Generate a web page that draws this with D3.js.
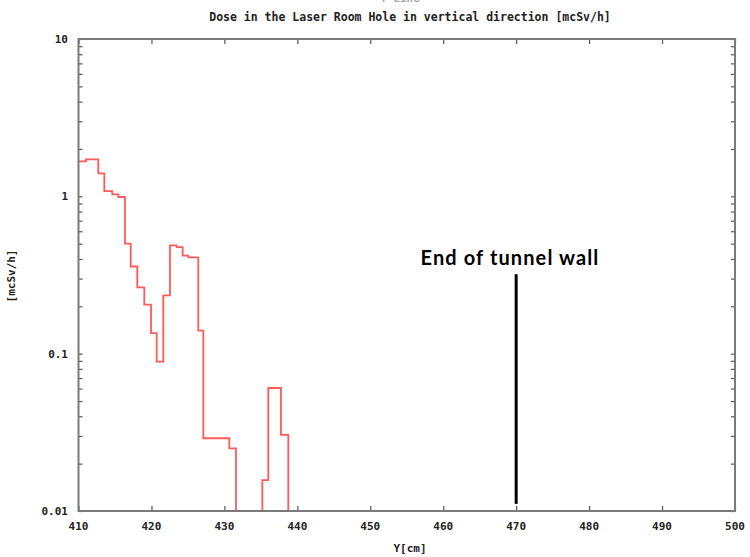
<!DOCTYPE html>
<html>
<head>
<meta charset="utf-8">
<script src="https://cdn.jsdelivr.net/npm/d3@7"></script>
<style>
  html, body { margin: 0; padding: 0; background: #fff; }
  svg { display: block; }
  .lbl { font-family: "DejaVu Sans Mono", monospace; font-weight: bold; fill: #222; }
</style>
</head>
<body>
<svg id="chart" width="750" height="557"></svg>
<script>
// Bin edges along Y [cm] and the dose in each bin [mcSv/h]; 0 = below the plotted range
const binEdges = [410, 411.03, 412.71, 413.54, 414.63, 415.46, 416.37, 417.16, 418.06, 419.02,
  419.94, 420.72, 421.62, 422.54, 423.46, 424.28, 425.05, 426.42, 427.11, 430.67,
  431.59, 435.20, 436.02, 437.76, 438.76, 500];
const doseValues = [1.67, 1.72, 1.40, 1.08, 1.03, 0.99, 0.50, 0.358, 0.264, 0.205,
  0.135, 0.089, 0.235, 0.488, 0.475, 0.42, 0.409, 0.14, 0.029, 0.025,
  0, 0.0157, 0.0605, 0.0305, 0];
const xTicks = [410, 420, 430, 440, 450, 460, 470, 480, 490, 500];
const yTicks = [0.01, 0.1, 1, 10];
const yTickLabels = ["0.01", "0.1", "1", "10"];
const wallPosition = 470;
const wallRange = [0.0111, 0.32];

const svg = d3.select("#chart");
const m = { left: 78.5, right: 735, top: 39, bottom: 511 };

const x = d3.scaleLinear().domain([410, 500]).range([m.left, m.right]);
const y = d3.scaleLog().domain([0.01, 10]).range([m.bottom, m.top]);

// faint subtitle line sitting just above the title
svg.append("text").attr("class", "lbl")
  .attr("x", 400).attr("y", 2).attr("text-anchor", "middle")
  .attr("font-size", 11).style("fill", "#aaa")
  .text("Y-Line");

svg.append("text").attr("class", "lbl")
  .attr("x", 410).attr("y", 21).attr("text-anchor", "middle")
  .attr("font-size", 11.5).text("Dose in the Laser Room Hole in vertical direction [mcSv/h]");

// clip the histogram to the plot frame
svg.append("clipPath").attr("id", "plotClip")
  .append("rect").attr("x", m.left).attr("y", m.top)
  .attr("width", m.right - m.left).attr("height", m.bottom - m.top);

// step outline of the histogram
const pts = [];
doseValues.forEach((v, i) => {
  const val = v > 0 ? v : 1e-4;
  pts.push([binEdges[i], val], [binEdges[i + 1], val]);
});
const line = d3.line().x(d => x(d[0])).y(d => y(d[1]));

svg.append("path")
  .attr("clip-path", "url(#plotClip)")
  .attr("d", line(pts))
  .attr("fill", "none")
  .attr("stroke", "#ff5a5a")
  .attr("stroke-width", 1.8)
  .attr("stroke-linejoin", "miter");

// axes (ticks point inward, frame drawn separately)
const tickColor = "#555";
const bottomAxis = d3.axisTop(x).tickValues(xTicks).tickSize(5).tickFormat("");
const topAxis = d3.axisBottom(x).tickValues(xTicks).tickSize(5).tickFormat("");
const leftMinor = d3.axisRight(y).tickValues(y.ticks()).tickSize(4).tickFormat("");
const rightMinor = d3.axisLeft(y).tickValues(y.ticks()).tickSize(4).tickFormat("");

function styleAxis(g) {
  g.select(".domain").remove();
  g.selectAll("line").attr("stroke", tickColor).attr("stroke-width", 1.2);
}
svg.append("g").attr("transform", `translate(0,${m.bottom})`).call(bottomAxis).call(styleAxis);
svg.append("g").attr("transform", `translate(0,${m.top})`).call(topAxis).call(styleAxis);
svg.append("g").attr("transform", `translate(${m.left},0)`).call(leftMinor).call(styleAxis);
svg.append("g").attr("transform", `translate(${m.right},0)`).call(rightMinor).call(styleAxis);

// frame
svg.append("rect")
  .attr("x", m.left).attr("y", m.top)
  .attr("width", m.right - m.left).attr("height", m.bottom - m.top)
  .attr("fill", "none").attr("stroke", "#7a7a7a").attr("stroke-width", 2);

// tick labels
svg.append("g").selectAll("text").data(xTicks).join("text")
  .attr("class", "lbl").attr("font-size", 11)
  .attr("x", d => x(d)).attr("y", m.bottom + 19)
  .attr("text-anchor", "middle").text(d => d);

svg.append("g").selectAll("text").data(yTicks).join("text")
  .attr("class", "lbl").attr("font-size", 11)
  .attr("x", 68).attr("y", d => y(d) + 4)
  .attr("text-anchor", "end").text((d, i) => yTickLabels[i]);

// axis titles
svg.append("text").attr("class", "lbl").attr("font-size", 11)
  .attr("x", 410).attr("y", 552).attr("text-anchor", "middle").text("Y[cm]");
svg.append("text").attr("class", "lbl").attr("font-size", 11)
  .attr("transform", "translate(15,276) rotate(-90)")
  .attr("text-anchor", "middle").text("[mcSv/h]");

// end-of-wall marker
svg.append("line")
  .attr("x1", x(wallPosition)).attr("x2", x(wallPosition))
  .attr("y1", y(wallRange[0])).attr("y2", y(wallRange[1]))
  .attr("stroke", "#000").attr("stroke-width", 3);
svg.append("text")
  .attr("x", 510).attr("y", 265).attr("text-anchor", "middle")
  .attr("font-family", "Lato, 'Open Sans', sans-serif").attr("font-weight", "bold")
  .attr("font-size", 20).attr("letter-spacing", 1.1).attr("fill", "#000")
  .text("End of tunnel wall");
</script>
</body>
</html>
